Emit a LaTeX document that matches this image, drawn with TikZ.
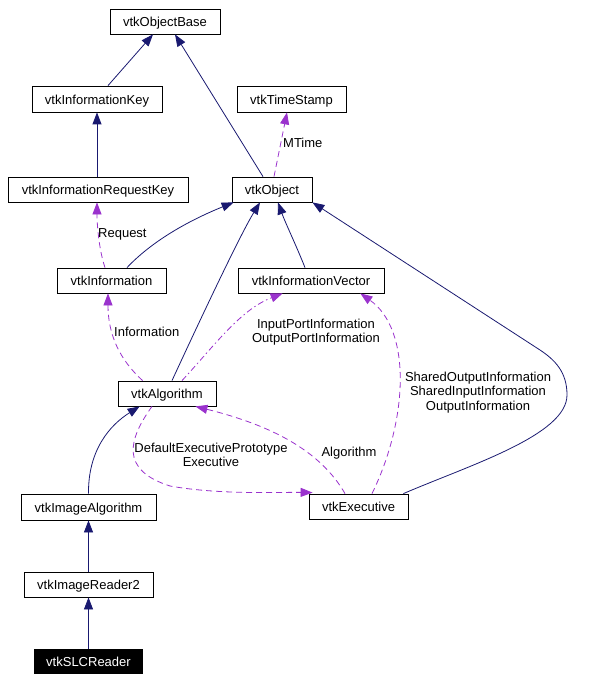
\documentclass[tikz,border=0pt]{standalone}
\usepackage{fontspec}
\setmainfont{Liberation Sans}
\usetikzlibrary{arrows.meta}
\definecolor{inhcol}{HTML}{191970}
\definecolor{usecol}{HTML}{9A32CD}
\begin{document}
\begin{tikzpicture}[x=1pt,y=-1pt,
  cls/.style={draw=black, line width=0.8pt, inner sep=0pt, minimum height=25pt, text height=10.4pt, text depth=0pt, font=\fontsize{13}{15}\selectfont},
  inh/.style={draw=inhcol, line width=0.8pt, -{Triangle[length=12pt,width=9pt]}, inhcol},
  use/.style={draw=usecol, line width=0.8pt, dash pattern=on 6pt off 4pt, -{Triangle[length=12pt,width=9pt]}, usecol},
  lbl/.style={font=\fontsize{13}{14.5}\selectfont, align=center, inner sep=0pt}
]
\useasboundingbox (0,0) rectangle (607,682);
% nodes
\node[cls, minimum width=110pt] (objbase) at (165,21.5) {vtkObjectBase};
\node[cls, minimum width=130pt, minimum height=26pt] (infokey) at (97,99) {vtkInformationKey};
\node[cls, minimum width=180pt] (inforeq) at (98,189.5) {vtkInformationRequestKey};
\node[cls, minimum width=80pt] (obj) at (272,189.5) {vtkObject};
\node[cls, minimum width=109pt, minimum height=26pt] (tstamp) at (291.5,99) {vtkTimeStamp};
\node[cls, minimum width=146pt] (infovec) at (311,280.5) {vtkInformationVector};
\node[cls, minimum width=109pt] (info) at (111.5,280.5) {vtkInformation};
\node[cls, minimum width=98pt] (algo) at (167,393.5) {vtkAlgorithm};
\node[cls, minimum width=99pt] (exec) at (358.5,506.5) {vtkExecutive};
\node[cls, minimum width=135pt, minimum height=26pt] (imgalgo) at (88.5,507) {vtkImageAlgorithm};
\node[cls, minimum width=129pt] (imgread) at (88.5,584.5) {vtkImageReader2};
\node[cls, minimum width=108pt, minimum height=24pt, fill=black, text=white] (slc) at (88.5,661.5) {vtkSLCReader};
% inheritance edges
\draw[inh] ([xshift=11pt]infokey.north) -- ([xshift=-12pt]objbase.south);
\draw[inh] ([xshift=-9pt]obj.north) -- ([xshift=10pt]objbase.south);
\draw[inh] ([xshift=-1pt]inforeq.north) -- (infokey.south);
\draw[inh] ([xshift=15.5pt]info.north) .. controls (155,238) and (195,218) .. ([xshift=2pt]obj.south west);
\draw[inh] ([xshift=5pt]algo.north) .. controls (200,320) and (240,235) .. ([xshift=-12pt]obj.south);
\draw[inh] ([xshift=-6pt]infovec.north) .. controls (296,245) and (285,222) .. ([xshift=6pt]obj.south);
\draw[inh] ([xshift=-5pt]exec.north east) .. controls (470,465) and (567,435) .. (567,395)
   .. controls (567,372) and (555,360) .. (540,350) -- (obj.south east);
\draw[inh] (imgalgo.north) .. controls (88,450) and (110,425) .. ([xshift=22pt]algo.south west);
\draw[inh] (imgread.north) -- (imgalgo.south);
\draw[inh] (slc.north) -- (imgread.south);
% usage edges
\draw[use] ([xshift=2pt]obj.north) -- ([xshift=-4.5pt]tstamp.south);
\draw[use] ([xshift=-6.5pt]info.north) .. controls (99,250) and (97,225) .. ([xshift=-1pt]inforeq.south);
\draw[use] ([xshift=25pt]algo.north west) .. controls (120,360) and (108,335) .. ([xshift=-3.5pt]info.south);
\draw[use, dash pattern=on 6pt off 3pt on 1.5pt off 3pt] ([xshift=15pt]algo.north) .. controls (215,345) and (240,310) .. ([xshift=45pt]infovec.south west);
\draw[use] ([xshift=13.5pt]exec.north) .. controls (408,420) and (412,330) .. ([xshift=-24pt]infovec.south east);
\draw[use] ([xshift=-13.5pt]exec.north) .. controls (320,450) and (270,425) .. ([xshift=-21pt]algo.south east);
\draw[use] ([xshift=-15pt]algo.south) .. controls (128,440) and (120,470) .. (170,486)
   .. controls (220,495) and (280,492) .. ([xshift=4pt,yshift=1pt]exec.north west);
% labels
\node[lbl, anchor=west] (lmtime) at (283,143) {MTime};
\node[lbl, anchor=west] (lreq) at (98,234) {Request};
\node[lbl, anchor=west] (linfo) at (114,332) {Information};
\node[lbl] (lport) at (316,332) {InputPortInformation\\OutputPortInformation};
\node[lbl] (lshared) at (478,392.5) {SharedOutputInformation\\SharedInputInformation\\OutputInformation};
\node[lbl] (lalgo) at (349,453) {Algorithm};
\node[lbl] (ldef) at (211,455) {DefaultExecutivePrototype\\Executive};
\end{tikzpicture}
\end{document}
